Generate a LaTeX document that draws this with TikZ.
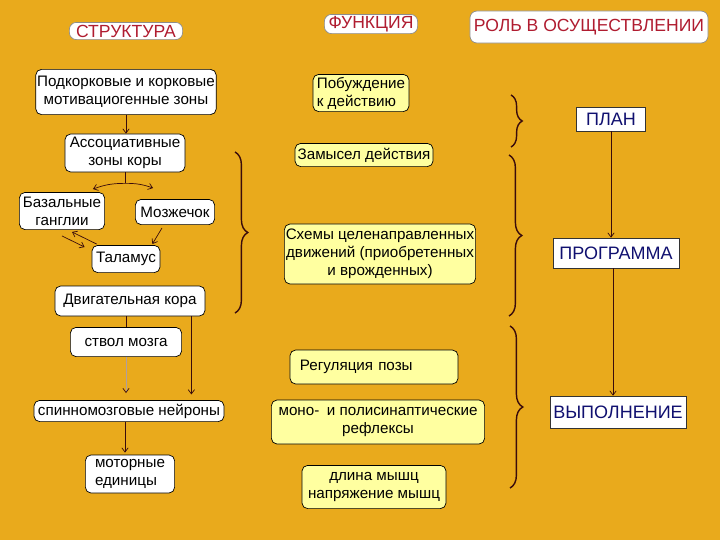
\documentclass[tikz,border=0pt]{standalone}
\usepackage{fontspec}
\setmainfont{Liberation Sans}
\usetikzlibrary{arrows.meta, decorations.pathreplacing, calc}
\definecolor{bgorange}{RGB}{233,170,28}
\definecolor{paleyellow}{RGB}{255,255,160}
\definecolor{headred}{RGB}{176,28,48}
\definecolor{navytext}{RGB}{16,16,112}
\definecolor{darkline}{RGB}{58,12,12}
\tikzset{
  whitebox/.style={draw=black, fill=white, rounded corners=4pt, inner sep=1pt,
    align=center, font=\fontsize{10.8}{12.8}\selectfont},
  yellowbox/.style={whitebox, fill=paleyellow},
  headbox/.style={draw=black!45, fill=white, rounded corners=5pt, inner sep=1pt,
    text=headred, font=\fontsize{12.5}{15}\selectfont},
  rolebox/.style={draw=black!80, fill=white, inner sep=1pt, text=navytext,
    font=\fontsize{12.8}{15}\selectfont},
  link/.style={draw=darkline},
  bracket/.style={decorate, decoration={brace, amplitude=#1}, line width=1pt, draw=darkline},
  bracket/.default=0.32cm
}

\begin{document}
\begin{tikzpicture}[x=0.025cm, y=-0.025cm, line width=0.5pt, >={Straight Barb[length=3pt,width=4.5pt]}]
  \fill[bgorange] (0,0) rectangle (720,540);
  % headers
  \node[headbox, minimum width=2.83cm, minimum height=0.43cm] (hstruct) at (126,31) {СТРУКТУРА};
  \node[headbox, minimum width=2.33cm, minimum height=0.48cm] (hfunc) at (371,24) {ФУНКЦИЯ};
  \node[headbox, minimum width=5.95cm, minimum height=0.8cm] (hrole) at (589,27) {РОЛЬ В ОСУЩЕСТВЛЕНИИ};
  %
  \node[whitebox, minimum width=4.33cm, minimum height=1.13cm] (motiv) at (126,92) {Подкорковые и корковые\\мотивациогенные зоны};
  \node[whitebox, minimum width=3cm, minimum height=0.95cm] (assoc) at (125,153) {Ассоциативные\\зоны коры};
  \node[whitebox, minimum width=2.13cm, minimum height=0.93cm] (basal) at (62,211) {Базальные\\ганглии};
  \node[whitebox, minimum width=1.98cm, minimum height=0.63cm] (cereb) at (175,212) {Мозжечок};
  \node[whitebox, minimum width=1.7cm, minimum height=0.68cm] (thal) at (126,259) {Таламус};
  \node[whitebox, minimum width=3.75cm, minimum height=0.75cm] (cortex) at (130,301) {Двигательная кора};
  \node[whitebox, minimum width=2.78cm, minimum height=0.73cm] (stem) at (126,342) {ствол мозга};
  \node[whitebox, minimum width=4.75cm, minimum height=0.53cm] (spinal) at (129,411) {спинномозговые нейроны};
  \node[whitebox, align=left, minimum width=2.23cm, minimum height=0.95cm] (units) at (130,474) {моторные\\единицы};
  %
  \draw[link, ->] (motiv.south) -- (motiv.south |- assoc.north);
  \draw[link] (assoc.south) -- ++(0,11) coordinate (split);
  \draw[link, ->] (split) to[bend right=10] ($(basal.north east)+(-12,-3)$);
  \draw[link, ->] (split) to[bend left=10] ($(cereb.north west)+(18,-11)$);
  \draw[link, ->] ($(thal.north west)+(5,-1)$) -- ($(basal.south)+(10,2)$);
  \draw[link, ->] ($(basal.south)+(0,6)$) -- ($(thal.north west)+(-7,2)$);
  \draw[link, ->] ($(cereb.south)+(-13,3)$) -- ($(thal.north east)+(-8,-1)$);
  \draw[link] ($(cortex.south)+(-4,0)$) -- (stem.north);
  \draw[darkline!40, -{Straight Barb[length=3pt,width=4.5pt,color=darkline]}, shorten >=5pt] (stem.south) -- (stem.south |- spinal.north);
  \coordinate (drop) at ($(cortex.south east)+(-14,0)$);
  \draw[link, ->, shorten >=4pt] (drop) -- (drop |- spinal.north);
  \draw[link, ->] ($(spinal.south)+(-4,0)$) -- ($(spinal.south |- units.north)+(-4,-2)$);
  %
  \node[yellowbox, align=left, minimum width=2.4cm, minimum height=0.93cm] (urge) at (361,93) {Побуждение\\к действию};
  \node[yellowbox, minimum width=3.45cm, minimum height=0.58cm] (idea) at (364,155) {Замысел действия};
  \node[yellowbox, minimum width=4.75cm, minimum height=1.5cm] (scheme) at (380,254) {Схемы целенаправленных\\движений (приобретенных\\и врожденных)};
  \node[yellowbox, align=left, inner xsep=0.25cm, text width=3.7cm, minimum height=0.85cm] (posture) at (374,367) {Регуляция позы};
  \node[yellowbox, minimum width=5.33cm, minimum height=1.1cm] (reflex) at (378,422) {моно-\enspace и полисинаптические\\рефлексы};
  \node[yellowbox, minimum width=3.6cm, minimum height=1.08cm] (muscle) at (374,487) {длина мышц\\напряжение мышц};
  %
  \draw[bracket] (235,152) -- (235,313);
  \draw[bracket=0.28cm] (511,95) -- (511,147);
  \draw[bracket] (509,155) -- (509,316);
  \draw[bracket] (510,326) -- (510,488);
  %
  \node[rolebox, minimum width=1.73cm, minimum height=0.6cm] (plan) at (611,119) {ПЛАН};
  \node[rolebox, minimum width=3.15cm, minimum height=0.75cm] (prog) at (616,253) {ПРОГРАММА};
  \node[rolebox, minimum width=3.4cm, minimum height=0.8cm] (exec) at (618,412) {ВЫПОЛНЕНИЕ};
  \draw[link, ->] (plan.south) -- (plan.south |- prog.north);
  \draw[link, ->] ($(prog.south)+(-3,0)$) -- ($(prog.south |- exec.north)+(-3,0)$);
\end{tikzpicture}
\end{document}
